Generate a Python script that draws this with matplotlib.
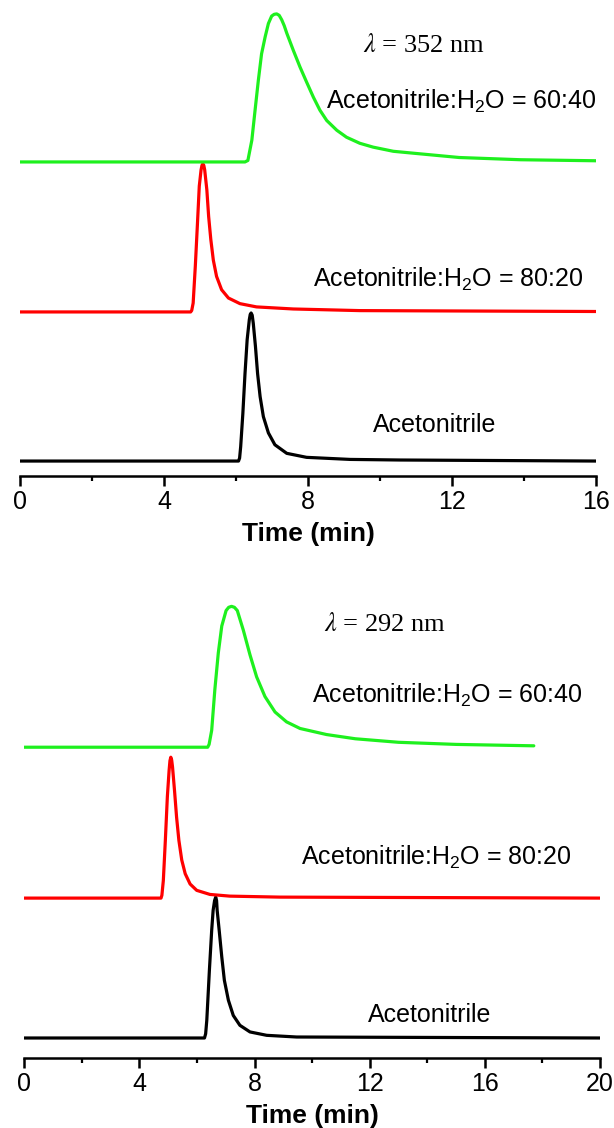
import matplotlib
matplotlib.use("Agg")
import matplotlib.pyplot as plt
from matplotlib.ticker import MultipleLocator

plt.rcParams['font.family'] = ['Liberation Sans', 'DejaVu Sans']
plt.rcParams['mathtext.fontset'] = 'custom'
plt.rcParams['mathtext.rm'] = 'Liberation Sans'
plt.rcParams['mathtext.it'] = 'Liberation Sans:italic'

# ---- top panel, lambda = 352 nm (normalised signal, peak = 1) ----
t352_green = [0, 6.25, 6.33, 6.44, 6.53, 6.62, 6.71, 6.81, 6.90, 6.99, 7.06, 7.13, 7.20,
              7.27, 7.34, 7.41, 7.59, 7.78, 7.96, 8.15, 8.33, 8.52, 8.80, 9.07, 9.44,
              9.81, 10.37, 10.93, 12.2, 13.9, 16.0]
s352_green = [0, 0, 0.01, 0.147, 0.35, 0.55, 0.73, 0.845, 0.935, 0.985, 0.997, 1.0, 0.99,
              0.96, 0.92, 0.87, 0.755, 0.64, 0.54, 0.437, 0.35, 0.28, 0.214, 0.167, 0.126,
              0.10, 0.072, 0.059, 0.03, 0.015, 0.008]

t352_red = [0, 4.74, 4.77, 4.81, 4.87, 4.93, 4.98, 5.03, 5.055, 5.08, 5.105, 5.13, 5.19,
            5.24, 5.30, 5.37, 5.46, 5.60, 5.79, 6.11, 6.57, 7.59, 9.44, 16.0]
s352_red = [0, 0, 0.01, 0.06, 0.31, 0.60, 0.85, 0.96, 0.99, 1.0, 0.99, 0.96, 0.825,
            0.645, 0.49, 0.35, 0.24, 0.15, 0.094, 0.056, 0.034, 0.02, 0.009, 0.003]

t352_black = [0, 6.07, 6.10, 6.13, 6.19, 6.25, 6.31, 6.37, 6.395, 6.42, 6.45, 6.48, 6.54,
              6.60, 6.67, 6.76, 6.90, 7.08, 7.41, 7.96, 9.17, 10.56, 16.0]
s352_black = [0, 0, 0.02, 0.097, 0.32, 0.59, 0.82, 0.955, 0.99, 1.0, 0.985, 0.93, 0.775,
              0.59, 0.435, 0.30, 0.19, 0.11, 0.052, 0.025, 0.011, 0.007, 0]

# ---- bottom panel, lambda = 292 nm ----
t292_green = [0, 6.37, 6.42, 6.51, 6.62, 6.74, 6.86, 7.01, 7.10, 7.20, 7.30, 7.40, 7.61,
              7.84, 8.07, 8.36, 8.71, 9.11, 9.58, 10.5, 11.5, 13.0, 15.0, 17.7]
s292_green = [0, 0, 0.02, 0.12, 0.41, 0.67, 0.86, 0.97, 0.993, 1.0, 0.993, 0.97, 0.83,
              0.656, 0.50, 0.36, 0.25, 0.18, 0.133, 0.09, 0.06, 0.035, 0.02, 0.01]

t292_red = [0, 4.75, 4.78, 4.83, 4.90, 4.97, 5.03, 5.06, 5.09, 5.12, 5.15, 5.22, 5.29,
            5.37, 5.47, 5.59, 5.76, 5.99, 6.45, 7.14, 8.88, 20.0]
s292_red = [0, 0, 0.02, 0.125, 0.41, 0.72, 0.905, 0.975, 1.0, 0.98, 0.93, 0.76, 0.575,
            0.41, 0.27, 0.173, 0.10, 0.055, 0.026, 0.014, 0.007, 0]

t292_black = [0, 6.26, 6.30, 6.34, 6.43, 6.51, 6.56, 6.61, 6.65, 6.68, 6.70, 6.77, 6.86,
              6.95, 7.09, 7.26, 7.49, 7.84, 8.42, 9.46, 20.0]
s292_black = [0, 0, 0.03, 0.126, 0.48, 0.765, 0.906, 0.975, 1.0, 0.975, 0.906, 0.765, 0.576,
              0.41, 0.268, 0.16, 0.09, 0.043, 0.019, 0.007, 0]

GREEN = '#1ef01e'
RED = '#ff0000'
BLACK = '#000000'

fig = plt.figure(figsize=(6.14, 11.28), dpi=100)
ax1 = fig.add_axes([20 / 614, 1 - 476 / 1128, 576 / 614, 471 / 1128])
ax2 = fig.add_axes([24.3 / 614, 1 - 1058 / 1128, 575.7 / 614, 468 / 1128])


def style(ax, xmax):
    for side in ['left', 'right', 'top']:
        ax.spines[side].set_visible(False)
    ax.spines['bottom'].set_linewidth(1.8)
    ax.set_yticks([])
    ax.set_xlim(0, xmax)
    ax.xaxis.set_major_locator(MultipleLocator(4))
    ax.xaxis.set_minor_locator(MultipleLocator(2))
    ax.tick_params(axis='x', which='major', direction='out', length=7, width=1.8,
                   labelsize=18, pad=3)
    ax.tick_params(axis='x', which='minor', direction='out', length=3.5, width=1.6)
    ax.set_xlabel('Time (min)', fontsize=19, fontweight='bold', labelpad=6)
    ax.patch.set_alpha(0)


lw = 2.3
kw = dict(lw=lw, solid_joinstyle='round', solid_capstyle='round')
# offsets keep the three traces stacked as in the figure
ax1.plot(t352_black, [v + 0.0 for v in s352_black], color=BLACK, **kw)
ax1.plot(t352_red, [v + 1.007 for v in s352_red], color=RED, **kw)
ax1.plot(t352_green, [v + 2.02 for v in s352_green], color=GREEN, **kw)
ax1.set_ylim(-0.101, 3.08)
style(ax1, 16)

ax1.text(9.52, 2.76, r'$\lambda$ = 352 nm', fontsize=19, family='Liberation Serif',
         math_fontfamily='stix', va='baseline')
ax1.text(8.49, 2.378, r'Acetonitrile:H$_2$O = 60:40', fontsize=18, va='baseline')
ax1.text(8.15, 1.176, r'Acetonitrile:H$_2$O = 80:20', fontsize=18, va='baseline')
ax1.text(9.81, 0.196, 'Acetonitrile', fontsize=18, va='baseline')

ax2.plot(t292_black, [v + 0.0 for v in s292_black], color=BLACK, **kw)
ax2.plot(t292_red, [v + 0.993 for v in s292_red], color=RED, **kw)
ax2.plot(t292_green, [v + 2.064 for v in s292_green], color=GREEN, **kw)
ax2.set_ylim(-0.142, 3.18)
style(ax2, 20)

ax2.text(10.40, 2.89, r'$\lambda$ = 292 nm', fontsize=19, family='Liberation Serif',
         math_fontfamily='stix', va='baseline')
ax2.text(10.0, 2.38, r'Acetonitrile:H$_2$O = 60:40', fontsize=18, va='baseline')
ax2.text(9.6, 1.23, r'Acetonitrile:H$_2$O = 80:20', fontsize=18, va='baseline')
ax2.text(11.95, 0.111, 'Acetonitrile', fontsize=18, va='baseline')

fig.savefig('out.png', dpi=100)
